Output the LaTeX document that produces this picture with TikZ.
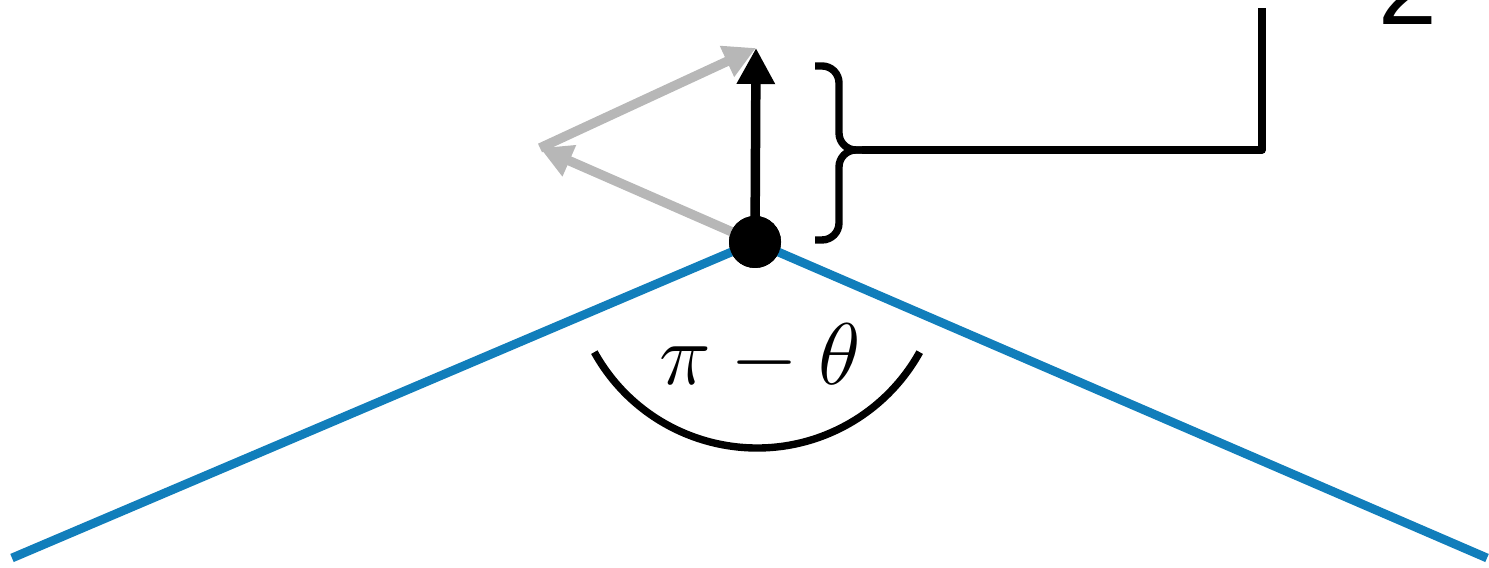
\documentclass[tikz,border=0pt]{standalone}
\usepackage{fontspec}
\usepackage{amsmath}
\newfontfamily\labelsans{Liberation Sans}
\usetikzlibrary{arrows.meta}
\definecolor{edgeblue}{RGB}{17,126,187}
\definecolor{ghostgray}{RGB}{183,183,183}
\tikzset{
	edge/.style={edgeblue, line width=2.5pt},
	vec/.style={-{Triangle[length=0.36cm, width=0.36cm]}, line width=2.7pt},
	ghost/.style={vec, ghostgray, -{Triangle[length=0.32cm, width=0.32cm]}},
	dot/.style={circle, fill=black, minimum size=0.52cm, inner sep=0pt},
	lead/.style={line width=2.1pt, line join=round},
	curly/.style={line width=2.1pt, rounded corners=0.17cm},
}

\begin{document}
\begin{tikzpicture}[x=0.01cm, y=0.01cm]
	\useasboundingbox (0,0) rectangle (1489,568);
	\clip (0,0) rectangle (1489,568);
	
	\coordinate (lend) at (12,10);
	\coordinate (rend) at (1487,10);
	\node[dot] (vertex) at (755,326) {};
	\coordinate (tip) at (756,520);
	\coordinate (gpt) at (540,420);
	\coordinate (arcc) at (757,306);
	
	% folded edge
	\draw[edge] (lend) -- (vertex.center) -- (rend);
	
	% rotated copies
	\draw[ghost] (vertex.center) -- (gpt);
	\draw[ghost] (gpt) -- (tip);
	
	\draw[vec] (vertex.center) -- (tip);
	\node[dot] at (vertex) {};
	
	% angle
	\draw[line width=2.1pt] ([shift={(209:186)}]arcc) arc[start angle=209, end angle=331, radius=186];
	\node[font=\fontsize{28}{32}\selectfont] (angle) at (760,210) {$\pi-\theta$};
	
	% brace and leader
	\coordinate (btop) at (815,502);
	\coordinate (bbot) at (815,328);
	\coordinate (bmid) at (862,418);
	\coordinate (corner) at (1262,418);
	\coordinate (lead end) at (1262,560);
	\draw[curly] (btop) -- ++(24,0) -- ([xshift=-0.23cm]bmid) -- (bmid);
	\draw[curly] (bbot) -- ++(24,0) -- ([xshift=-0.23cm]bmid) -- (bmid);
	\draw[lead] (bmid) -- (corner) -- (lead end);
	
	\node[anchor=base west, inner sep=0pt, font=\labelsans\fontsize{30}{34}\selectfont] (two) at (1378,543) {2};
	
\end{tikzpicture}
\end{document}
